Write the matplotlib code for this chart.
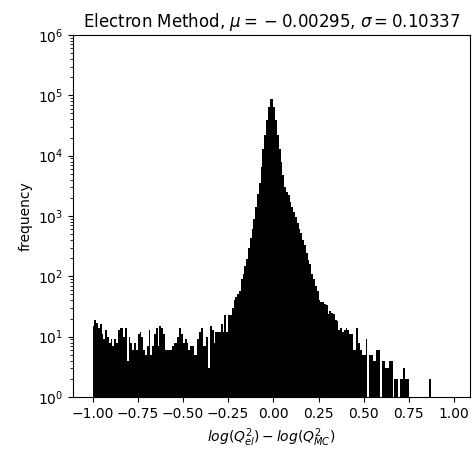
import numpy as np
import matplotlib
matplotlib.use("Agg")
import matplotlib.pyplot as plt

# histogram settings and data (counts per bin, 200 bins over [-1, 1])
bin_range = (-1.0, 1.0)
n_bins = 200
counts = [
    15, 19, 17, 14, 16, 11, 9, 13, 10, 8,
    9, 7, 9, 8, 13, 14, 14, 10, 14, 4,
    10, 8, 6, 8, 6, 11, 12, 10, 6, 5,
    7, 13, 5, 7, 11, 14, 7, 15, 14, 11,
    6, 6, 6, 6, 7, 8, 8, 10, 14, 11,
    8, 9, 8, 6, 7, 7, 5, 5, 9, 12,
    14, 7, 7, 10, 3, 15, 13, 8, 12, 12,
    12, 16, 12, 23, 12, 23, 23, 30, 41, 45,
    50, 57, 89, 110, 150, 192, 300, 440, 600, 900,
    1390, 2300, 3500, 6500, 13000, 21800, 38700, 64600, 87000, 86000,
    64000, 39000, 22000, 13000, 8000, 4700, 3000, 2500, 2200, 1700,
    1400, 1150, 950, 780, 620, 530, 400, 330, 248, 190,
    158, 110, 89, 70, 57, 40, 38, 37, 35, 34,
    24, 27, 25, 24, 19, 18, 13, 14, 12, 13,
    14, 13, 11, 11, 6, 6, 14, 8, 6, 5,
    5, 9, 0, 5, 5, 4, 4, 6, 6, 1,
    4, 4, 3, 3, 4, 4, 1, 2, 2, 1,
    2, 2, 3, 2, 2, 0, 0, 0, 0, 0,
    0, 0, 0, 0, 0, 0, 2, 0, 0, 0,
    0, 0, 0, 0, 0, 0, 0, 0, 0, 0,
]
mu = -0.00295
sigma = 0.10337
title_text = "Electron Method, $\\mu = {}-{} %.5f$, $\\sigma = %.5f$" % (abs(mu), sigma)
xlabel_text = "$log(Q^2_{el}) - log(Q^2_{MC})$"
ylabel_text = "frequency"
xticks = [-1.00, -0.75, -0.50, -0.25, 0.00, 0.25, 0.50, 0.75, 1.00]

edges = np.linspace(bin_range[0], bin_range[1], n_bins + 1)
left_edges = edges[:-1]

W, H = 474, 459
fig = plt.figure(figsize=(W / 100, H / 100), dpi=100)
ax = fig.add_axes([73 / W, 1 - 397 / H, (470 - 73) / W, (397 - 35) / H])
ax.hist(left_edges, bins=edges, weights=counts, color="black", log=True)
ax.set_yscale("log")
ax.set_ylim(1, 1e6)
ax.set_xlim(-1.108, 1.088)
ax.set_xticks(xticks)
ax.set_xticklabels(["%.2f" % t if t >= 0 else "\u2212%.2f" % abs(t) for t in xticks])
ax.set_title(title_text)
ax.set_xlabel(xlabel_text)
ax.set_ylabel(ylabel_text)

fig.savefig("out.png", dpi=100)
